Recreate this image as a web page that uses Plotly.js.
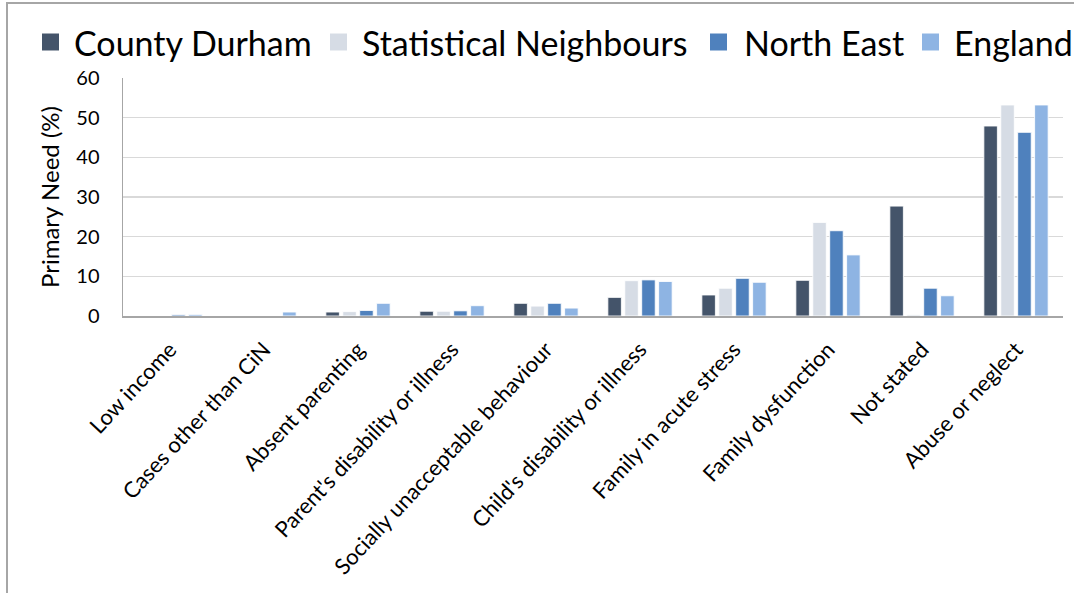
<!DOCTYPE html>
<html>
<head>
<meta charset="utf-8">
<script src="https://cdn.plot.ly/plotly-3.0.1.min.js"></script>
<style>
  html, body { margin: 0; padding: 0; background: #ffffff; }
  #chart { width: 1074px; height: 593px; }
</style>
</head>
<body>
<div id="chart"></div>
<script>
// Primary need at assessment, share of cases (%)
const categories = [
  "Low income",
  "Cases other than CiN",
  "Absent parenting",
  "Parent's disability or illness",
  "Socially unacceptable behaviour",
  "Child's disability or illness",
  "Family in acute stress",
  "Family dysfunction",
  "Not stated",
  "Abuse or neglect"
];

const countyDurham          = [0.0, 0.0, 1.0, 1.2, 3.2, 4.7, 5.3, 9.0, 27.7, 47.9];
const statisticalNeighbours = [0.0, 0.0, 1.1, 1.2, 2.5, 8.9, 7.0, 23.6, 0.3, 53.2];
const northEast             = [0.3, 0.0, 1.4, 1.3, 3.2, 9.1, 9.5, 21.5, 7.0, 46.3];
const england               = [0.4, 1.0, 3.2, 2.6, 2.0, 8.7, 8.5, 15.4, 5.1, 53.2];

const seriesNames  = ["County Durham", "Statistical Neighbours", "North East", "England"];
const seriesValues = [countyDurham, statisticalNeighbours, northEast, england];
const seriesColors = ["#44546a", "#d6dce5", "#4f81bd", "#8eb4e3"];

const yTickValues = [0, 10, 20, 30, 40, 50, 60];

const FONT = "Lato, 'Noto Sans', sans-serif";

// Figure geometry (pixels)
const W = 1074, H = 593;
const M = { l: 123, r: 11, t: 78, b: 277 };
const plotW = W - M.l - M.r;
const plotH = H - M.t - M.b;
const px2x = (px) => (px - M.l) / plotW;          // pixel column -> paper x
const px2y = (py) => (H - M.b - py) / plotH;      // pixel row    -> paper y

const traces = seriesNames.map((name, i) => ({
  type: "bar",
  name: name,
  x: categories,
  y: seriesValues[i],
  marker: {
    color: seriesColors[i],
    line: { color: "rgba(255,255,255,0.85)", width: 1 }
  },
  hoverinfo: "x+y+name"
}));

// Single-row key across the top: a swatch and a label per series
const keySwatchLeft = [42, 330, 710, 922];
const keyTextLeft   = [72, 360, 742, 952];
const keySwatchSize = 17;
const keyCenterY    = 42;

const keyShapes = seriesNames.map((name, i) => ({
  type: "rect",
  xref: "paper", yref: "paper",
  x0: px2x(keySwatchLeft[i]),
  x1: px2x(keySwatchLeft[i] + keySwatchSize),
  y0: px2y(keyCenterY + keySwatchSize / 2),
  y1: px2y(keyCenterY - keySwatchSize / 2),
  fillcolor: seriesColors[i],
  line: { width: 0 }
}));

const keyLabels = seriesNames.map((name, i) => ({
  xref: "paper", yref: "paper",
  x: px2x(keyTextLeft[i]),
  y: px2y(keyCenterY),
  xanchor: "left",
  yanchor: "middle",
  text: name,
  showarrow: false,
  font: { family: FONT, size: 34, color: "#000000" }
}));

// Outer chart frame
const frame = {
  type: "rect",
  xref: "paper", yref: "paper",
  x0: px2x(7), x1: px2x(W + 10),
  y0: px2y(H + 10), y1: px2y(3),
  line: { color: "#a6a6a6", width: 2 },
  fillcolor: "rgba(0,0,0,0)",
  layer: "below"
};

const layout = {
  width: W,
  height: H,
  paper_bgcolor: "#ffffff",
  plot_bgcolor: "#ffffff",
  font: { family: FONT, color: "#000000" },
  margin: { l: M.l, r: M.r, t: M.t, b: M.b, pad: 0 },
  barmode: "group",
  bargap: 0.28,
  bargroupgap: 0.2,
  showlegend: false,
  xaxis: {
    type: "category",
    tickangle: -47,
    tickfont: { family: FONT, size: 22, color: "#000000" },
    ticklabelstandoff: 10,
    showline: true,
    linecolor: "#a6a6a6",
    linewidth: 2,
    ticks: "",
    showgrid: false,
    zeroline: false,
    automargin: false
  },
  yaxis: {
    range: [0, 60],
    tickvals: yTickValues,
    ticktext: yTickValues.map(String),
    tickfont: { family: FONT, size: 20, color: "#000000" },
    ticklabelstandoff: 18,
    showgrid: true,
    gridcolor: "#d9d9d9",
    gridwidth: 1.5,
    showline: true,
    linecolor: "#a6a6a6",
    linewidth: 1.5,
    ticks: "",
    zeroline: false,
    automargin: false,
    title: {
      text: "Primary Need (%)",
      font: { family: FONT, size: 24, color: "#000000" },
      standoff: 10
    }
  },
  shapes: [frame].concat(keyShapes),
  annotations: keyLabels
};

Plotly.newPlot("chart", traces, layout, { displayModeBar: false, staticPlot: true });
</script>
</body>
</html>
